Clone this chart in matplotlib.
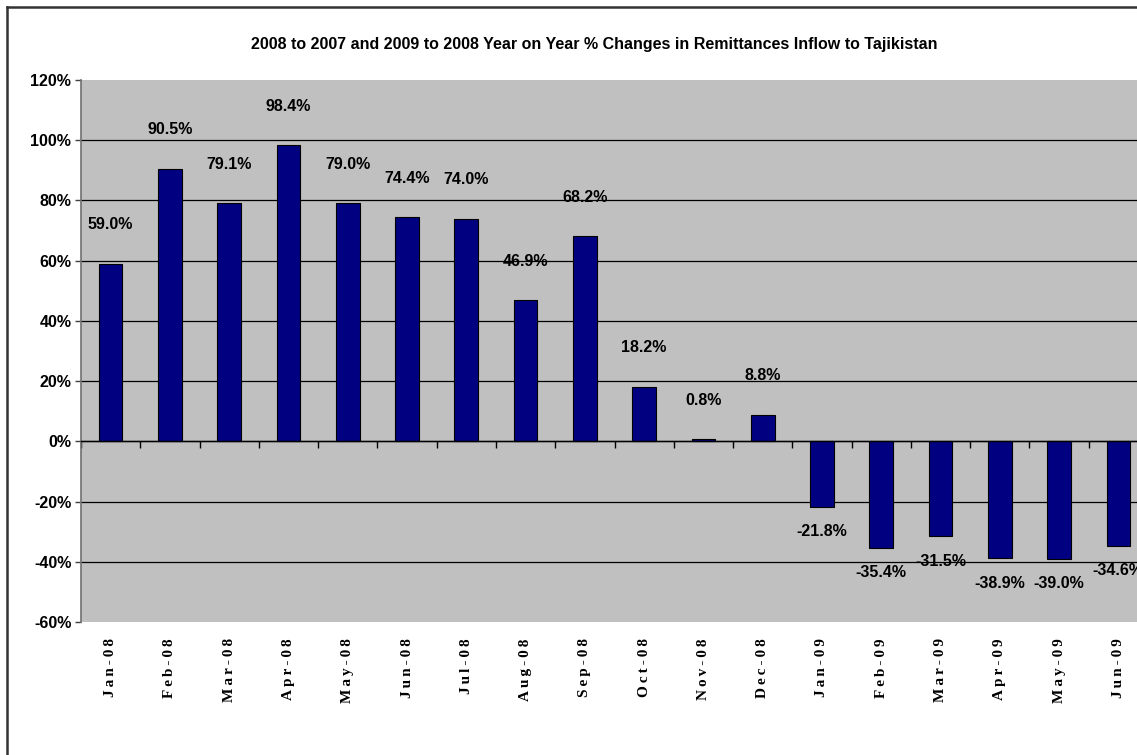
import matplotlib
matplotlib.use('Agg')
import matplotlib.pyplot as plt
from matplotlib.lines import Line2D
from matplotlib.ticker import FuncFormatter

matplotlib.rcParams['axes.unicode_minus'] = False

# data
months = ['Jan-08', 'Feb-08', 'Mar-08', 'Apr-08', 'May-08', 'Jun-08', 'Jul-08', 'Aug-08', 'Sep-08',
          'Oct-08', 'Nov-08', 'Dec-08', 'Jan-09', 'Feb-09', 'Mar-09', 'Apr-09', 'May-09', 'Jun-09']
change = [59.0, 90.5, 79.1, 98.4, 79.0, 74.4, 74.0, 46.9, 68.2,
          18.2, 0.8, 8.8, -21.8, -35.4, -31.5, -38.9, -39.0, -34.6]
yticks = [-60, -40, -20, 0, 20, 40, 60, 80, 100, 120]
title = '2008 to 2007 and 2009 to 2008 Year on Year % Changes in Remittances Inflow to Tajikistan'

narrow = ['Liberation Sans Narrow', 'Liberation Sans', 'DejaVu Sans']
serif = ['Liberation Serif', 'DejaVu Serif']

W, H = 1137, 755
fig = plt.figure(figsize=(W / 100, H / 100), dpi=100)
fig.patch.set_facecolor('white')

# plot area (runs off the right edge like the original)
left, top, bottom, right = 81, 80, 622, 1148
ax = fig.add_axes([left / W, 1 - bottom / H, (right - left) / W, (bottom - top) / H])
ax.set_facecolor('#C0C0C0')

x = list(range(len(months)))
ax.bar(x, change, width=0.4, color='#000080', edgecolor='black', linewidth=0.8, zorder=3)

ax.set_xlim(-0.5, len(months) - 0.5)
ax.set_ylim(-60, 120)
ax.set_yticks(yticks)
ax.yaxis.set_major_formatter(FuncFormatter(lambda v, p: '%d%%' % v))
for lab in ax.get_yticklabels():
    lab.set_family(narrow)
    lab.set_fontweight('bold')
    lab.set_fontsize(11.5)
ax.tick_params(axis='y', direction='out', length=4, width=1, color='#404040', pad=3)

ax.grid(axis='y', color='black', linewidth=0.9, zorder=1)
gl = ax.yaxis.get_gridlines()
gl[0].set_visible(False)
gl[-1].set_visible(False)

for s in ['top', 'right']:
    ax.spines[s].set_visible(False)
ax.spines['left'].set_color('#707070')
ax.spines['left'].set_linewidth(1.2)
# category axis crosses at zero
ax.spines['bottom'].set_position(('data', 0))
ax.spines['bottom'].set_color('black')
ax.spines['bottom'].set_linewidth(1.0)
ax.spines['bottom'].set_zorder(4)
ax.set_xticks([i + 0.5 for i in x[:-1]] + [-0.5])
ax.set_xticklabels([])
ax.tick_params(axis='x', direction='out', length=5, width=1, color='black')

# month labels below the plot area (spaced letters)
for i, m in enumerate(months):
    ax.text(i, -0.03, '\u2009'.join(m), transform=ax.get_xaxis_transform(), rotation=90,
            ha='center', va='top', fontsize=11, fontweight='bold', family=serif)

# value labels
for i, v in enumerate(change):
    off = 28 if v >= 0 else -18
    ax.annotate('%.1f%%' % v, (i, v), xytext=(0, off), textcoords='offset points',
                ha='center', va='center', fontsize=11.5, fontweight='bold', family=narrow,
                zorder=5)

fig.text(594 / W, 1 - 45 / H, title, ha='center', va='center', fontsize=11.5,
         fontweight='bold', family=narrow)

# chart border (left and top edges visible)
fig.add_artist(Line2D([7 / W, 7 / W], [-0.1, 1 - 6.5 / H], transform=fig.transFigure,
                      color='#333333', linewidth=1.8))
fig.add_artist(Line2D([7 / W, 1.1], [1 - 6.5 / H, 1 - 6.5 / H], transform=fig.transFigure,
                      color='#333333', linewidth=1.8))

fig.savefig('out.png', dpi=100)
